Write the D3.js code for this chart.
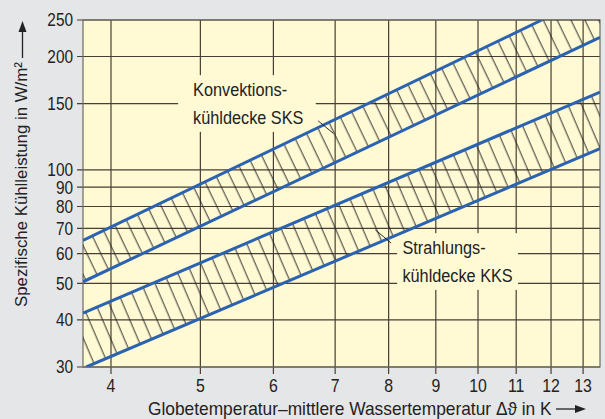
<!DOCTYPE html>
<html>
<head>
<meta charset="utf-8">
<script src="https://cdn.jsdelivr.net/npm/d3@7"></script>
<style>
body { margin:0; background:#e5e6e8; }
</style>
</head>
<body>
<div id="chart"></div>
<script>
var xTicks = [4,5,6,7,8,9,10,11,12,13];
var yTicks = [30,40,50,60,70,80,90,100,150,200,250];

// band edges (x = temp difference, y = W/m2), read where they hit the frame
var sksUpper = [[3.73,65],[11.73,250]];
var sksLower = [[3.73,50.5],[13.56,225]];
var kksUpper = [[3.73,41.7],[13.56,161]];
var kksLower = [[3.76,30],[13.56,114]];

var sksText = ["Konvektions-","kühldecke SKS"];
var kksText = ["Strahlungs-","kühldecke KKS"];

var W = 605, H = 419;
var margin = {top:20, right:5, bottom:52, left:83};
var font = "'Liberation Sans',Arial,sans-serif";
var gridCol = "#473f33";
var plotBg = "#fff9d4";
var blue = "#2b63b0";
var squeeze = 0.88;   // the original uses a condensed face

var svg = d3.select("#chart").append("svg")
    .attr("width", W)
    .attr("height", H)
    .style("font-family", font);

svg.append("rect").attr("width",W).attr("height",H).attr("fill","#e5e6e8");

var x = d3.scaleLog().domain([3.73,13.56]).range([margin.left, W-margin.right]);
var y = d3.scaleLog().domain([30,250]).range([H-margin.bottom, margin.top]);

var x0 = x.range()[0], x1 = x.range()[1], y0 = y.range()[0], y1 = y.range()[1];

svg.append("rect")
    .attr("x",x0).attr("y",y1)
    .attr("width",x1-x0).attr("height",y0-y1)
    .attr("fill",plotBg);

var defs = svg.append("defs");
defs.append("clipPath").attr("id","plotclip")
  .append("rect").attr("x",x0).attr("y",y1).attr("width",x1-x0).attr("height",y0-y1);

// grid
var grid = svg.append("g");
grid.selectAll(".vg").data(xTicks).enter().append("line")
    .attr("x1",function(d){return x(d);}).attr("x2",function(d){return x(d);})
    .attr("y1",y1).attr("y2",y0+7)
    .attr("stroke",gridCol).attr("stroke-width",1.2);
grid.selectAll(".hg").data(yTicks).enter().append("line")
    .attr("x1",x0-6).attr("x2",x1)
    .attr("y1",function(d){return y(d);}).attr("y2",function(d){return y(d);})
    .attr("stroke",gridCol).attr("stroke-width",1.2);

// frame
svg.append("rect")
    .attr("x",x0).attr("y",y1).attr("width",x1-x0).attr("height",y0-y1)
    .attr("fill","none").attr("stroke","#6f6a60").attr("stroke-width",1.2);

// tick labels
svg.append("g").selectAll("text").data(yTicks).enter().append("text")
    .attr("transform",function(d){return "translate("+(x0-10)+","+y(d)+") scale("+squeeze+",1)";})
    .attr("dy","0.36em")
    .attr("text-anchor","end")
    .attr("font-size",17.5).attr("fill","#222")
    .text(function(d){return d;});
svg.append("g").selectAll("text").data(xTicks).enter().append("text")
    .attr("transform",function(d){return "translate("+x(d)+","+(y0+25)+") scale("+squeeze+",1)";})
    .attr("text-anchor","middle")
    .attr("font-size",18).attr("fill","#222")
    .text(function(d){return d;});

// label boxes hide the grid behind the text
function label(lines, px, py, pad) {
  var g = svg.append("g").attr("transform","translate("+px+","+py+") scale("+squeeze+",1)");
  var box = g.append("rect").attr("fill",plotBg);
  var t = g.append("text").attr("font-size",18.5).attr("fill","#222");
  lines.forEach(function(s,i){
    t.append("tspan").attr("x",0).attr("y",i*27.5).text(s);
  });
  var b = t.node().getBBox();
  box.attr("x",b.x-pad[0]).attr("y",b.y-pad[1])
     .attr("width",b.width+pad[0]+pad[2]).attr("height",b.height+pad[1]+pad[3]);
  return g;
}
label(sksText, x(4.91), y(157), [17,4,14,4]);
label(kksText, x(8.28), y(59.8), [6,4,6,4]);

// hatched bands
function band(id, up, lo, cornerX, cornerY) {
  var p1 = [x(up[0][0]), y(up[0][1])], p2 = [x(up[1][0]), y(up[1][1])];
  var ang = Math.atan2(p2[1]-p1[1], p2[0]-p1[0]) * 180/Math.PI;
  var pat = defs.append("pattern").attr("id",id)
      .attr("patternUnits","userSpaceOnUse")
      .attr("width",12.5).attr("height",40)
      .attr("patternTransform","rotate("+ang+")");
  pat.append("line").attr("x1",6).attr("x2",6).attr("y1",0).attr("y2",40)
      .attr("stroke","#1a1a1a").attr("stroke-width",0.9);
  var pts = [up[0], up[1]];
  if (cornerY != null) pts.push([cornerX, cornerY]);
  pts.push(lo[1], lo[0]);
  return pts;
}
var poly = d3.line().x(function(d){return x(d[0]);}).y(function(d){return y(d[1]);});

var sksPts = band("hatchS", sksUpper, sksLower, 13.56, 250);
var kksPts = band("hatchK", kksUpper, kksLower, null, null);
kksPts.push([3.73,30]);

var plot = svg.append("g").attr("clip-path","url(#plotclip)");
plot.append("path").attr("d",poly(sksPts)+"Z").attr("fill","url(#hatchS)");
plot.append("path").attr("d",poly(kksPts)+"Z").attr("fill","url(#hatchK)");

[sksUpper, sksLower, kksUpper, kksLower].forEach(function(l){
  plot.append("path").attr("d",poly(l))
      .attr("fill","none").attr("stroke",blue).attr("stroke-width",3);
});

// leaders from labels into bands
var leaders = [[[6.71,135],[6.97,125]], [[7.74,69.3],[8.05,64]]];
svg.selectAll(".leader").data(leaders).enter().append("path")
    .attr("d",function(d){return poly(d);})
    .attr("stroke","#1a1a1a").attr("stroke-width",0.9).attr("fill","none");

// axis titles, squeezed to the original's width
var xt = svg.append("text")
    .attr("font-size",18).attr("fill","#222")
    .text("Globetemperatur\u2013mittlere Wassertemperatur \u0394\u03d1 in K");
var xw = xt.node().getComputedTextLength();
xt.attr("transform","translate(148,415) scale("+(404/xw)+",1)");

svg.append("line").attr("x1",556).attr("x2",578).attr("y1",409).attr("y2",409)
    .attr("stroke","#222").attr("stroke-width",1.3);
svg.append("path").attr("d","M586,409 L575,405 L575,413 Z").attr("fill","#222");

var yt = svg.append("text")
    .attr("font-size",17).attr("fill","#222")
    .text("Spezifische Kühlleistung in W/m\u00b2");
var yw = yt.node().getComputedTextLength();
yt.attr("transform","translate(27,307) rotate(-90) scale("+(245/yw)+",1)");
svg.append("line").attr("x1",22.5).attr("x2",22.5).attr("y1",58).attr("y2",30)
    .attr("stroke","#222").attr("stroke-width",1.3);
svg.append("path").attr("d","M22.5,21 L18.5,32 L26.5,32 Z").attr("fill","#222");
</script>
</body>
</html>
